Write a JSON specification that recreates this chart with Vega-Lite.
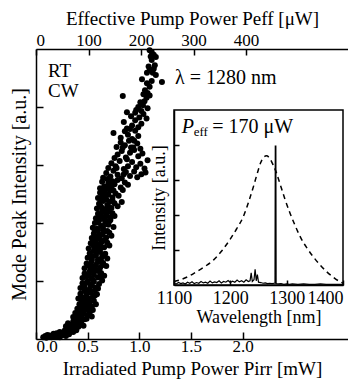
{
  "$schema": "https://vega.github.io/schema/vega-lite/v6.json",
  "width": 312,
  "height": 290,
  "autosize": {"type": "none"},
  "padding": {"left": 36, "top": 49, "right": 0, "bottom": 43},
  "background": "white",
  "config": {
    "view": {"stroke": null},
    "font": "Liberation Serif",
    "text": {"font": "Liberation Serif"},
    "axis": {
      "domainColor": "black", "tickColor": "black", "labelColor": "black", "titleColor": "black",
      "labelFont": "Liberation Serif", "titleFont": "Liberation Serif",
      "labelFontSize": 18, "titleFontSize": 20, "titleFontWeight": "normal",
      "grid": false, "domainWidth": 1.5, "tickWidth": 1.5
    }
  },
  "datasets": {
    "scatter": [
      {"p":0.07,"i":0.03},{"p":0.09,"i":0.05},{"p":0.10,"i":0.02},{"p":0.12,"i":0.04},{"p":0.13,"i":0.06},{"p":0.15,"i":0.03},{"p":0.16,"i":0.05},{"p":0.18,"i":0.04},{"p":0.19,"i":0.07},{"p":0.21,"i":0.05},{"p":0.22,"i":0.08},{"p":0.24,"i":0.06},{"p":0.25,"i":0.09},{"p":0.27,"i":0.07},
      {"p":0.20,"i":0.10},{"p":0.23,"i":0.12},{"p":0.26,"i":0.11},{"p":0.28,"i":0.15},{"p":0.30,"i":0.10},{"p":0.31,"i":0.18},{"p":0.33,"i":0.13},{"p":0.35,"i":0.17},{"p":0.37,"i":0.20},{"p":0.39,"i":0.15},
      {"p":0.29,"i":0.22},{"p":0.31,"i":0.27},{"p":0.34,"i":0.24},{"p":0.36,"i":0.30},{"p":0.38,"i":0.25},{"p":0.40,"i":0.33},{"p":0.42,"i":0.28},{"p":0.44,"i":0.31},{"p":0.46,"i":0.23},{"p":0.47,"i":0.34},
      {"p":0.36,"i":0.38},{"p":0.38,"i":0.45},{"p":0.40,"i":0.40},{"p":0.42,"i":0.48},{"p":0.44,"i":0.37},{"p":0.46,"i":0.44},{"p":0.48,"i":0.50},{"p":0.50,"i":0.41},{"p":0.52,"i":0.46},{"p":0.54,"i":0.39},
      {"p":0.40,"i":0.52},{"p":0.42,"i":0.60},{"p":0.44,"i":0.55},{"p":0.46,"i":0.65},{"p":0.48,"i":0.58},{"p":0.50,"i":0.53},{"p":0.52,"i":0.63},{"p":0.54,"i":0.56},{"p":0.56,"i":0.66},{"p":0.58,"i":0.60},
      {"p":0.41,"i":0.70},{"p":0.43,"i":0.78},{"p":0.45,"i":0.72},{"p":0.47,"i":0.83},{"p":0.49,"i":0.75},{"p":0.51,"i":0.69},{"p":0.53,"i":0.80},{"p":0.55,"i":0.73},{"p":0.57,"i":0.84},{"p":0.59,"i":0.77},
      {"p":0.43,"i":0.88},{"p":0.45,"i":0.96},{"p":0.47,"i":0.90},{"p":0.50,"i":1.00},{"p":0.52,"i":0.86},{"p":0.54,"i":0.94},{"p":0.56,"i":0.99},{"p":0.58,"i":0.89},{"p":0.61,"i":0.95},{"p":0.64,"i":1.01},
      {"p":0.45,"i":1.05},{"p":0.47,"i":1.13},{"p":0.49,"i":1.08},{"p":0.52,"i":1.17},{"p":0.54,"i":1.04},{"p":0.56,"i":1.11},{"p":0.58,"i":1.18},{"p":0.60,"i":1.06},{"p":0.63,"i":1.14},{"p":0.66,"i":1.09},
      {"p":0.47,"i":1.22},{"p":0.49,"i":1.30},{"p":0.52,"i":1.25},{"p":0.54,"i":1.35},{"p":0.56,"i":1.20},{"p":0.58,"i":1.28},{"p":0.60,"i":1.33},{"p":0.62,"i":1.23},{"p":0.65,"i":1.31},{"p":0.68,"i":1.26},
      {"p":0.50,"i":1.40},{"p":0.52,"i":1.48},{"p":0.54,"i":1.38},{"p":0.56,"i":1.52},{"p":0.58,"i":1.44},{"p":0.60,"i":1.37},{"p":0.62,"i":1.50},{"p":0.64,"i":1.42},{"p":0.67,"i":1.47},{"p":0.69,"i":1.39},
      {"p":0.51,"i":1.56},{"p":0.53,"i":1.65},{"p":0.56,"i":1.60},{"p":0.58,"i":1.70},{"p":0.60,"i":1.55},{"p":0.62,"i":1.63},{"p":0.64,"i":1.68},{"p":0.66,"i":1.58},{"p":0.69,"i":1.66},{"p":0.71,"i":1.61},
      {"p":0.54,"i":1.74},{"p":0.56,"i":1.82},{"p":0.58,"i":1.77},{"p":0.60,"i":1.87},{"p":0.62,"i":1.72},{"p":0.64,"i":1.80},{"p":0.66,"i":1.85},{"p":0.68,"i":1.75},{"p":0.71,"i":1.83},{"p":0.73,"i":1.78},
      {"p":0.55,"i":1.92},{"p":0.57,"i":2.00},{"p":0.59,"i":1.90},{"p":0.61,"i":2.04},{"p":0.63,"i":1.95},{"p":0.65,"i":1.89},{"p":0.67,"i":2.02},{"p":0.70,"i":1.97},{"p":0.72,"i":2.05},{"p":0.75,"i":1.93},
      {"p":0.58,"i":2.08},{"p":0.60,"i":2.16},{"p":0.62,"i":2.10},{"p":0.64,"i":2.21},{"p":0.66,"i":2.07},{"p":0.68,"i":2.14},{"p":0.70,"i":2.19},{"p":0.72,"i":2.09},{"p":0.74,"i":2.17},{"p":0.76,"i":2.12},
      {"p":0.59,"i":2.25},{"p":0.61,"i":2.33},{"p":0.63,"i":2.28},{"p":0.65,"i":2.38},{"p":0.67,"i":2.24},{"p":0.69,"i":2.31},{"p":0.71,"i":2.36},{"p":0.73,"i":2.26},{"p":0.76,"i":2.34},{"p":0.79,"i":2.29},{"p":0.83,"i":2.36},
      {"p":0.60,"i":2.43},{"p":0.62,"i":2.52},{"p":0.64,"i":2.46},{"p":0.66,"i":2.55},{"p":0.68,"i":2.41},{"p":0.70,"i":2.49},{"p":0.72,"i":2.56},{"p":0.74,"i":2.44},{"p":0.77,"i":2.51},{"p":0.80,"i":2.47},{"p":0.84,"i":2.57},
      {"p":0.62,"i":2.60},{"p":0.64,"i":2.71},{"p":0.66,"i":2.63},{"p":0.68,"i":2.58},{"p":0.70,"i":2.69},{"p":0.73,"i":2.62},{"p":0.76,"i":2.67},{"p":0.79,"i":2.74},{"p":0.82,"i":2.61},{"p":0.86,"i":2.70},{"p":0.89,"i":2.66},
      {"p":0.65,"i":2.78},{"p":0.68,"i":2.86},{"p":0.72,"i":2.80},{"p":0.75,"i":2.90},{"p":0.79,"i":2.83},{"p":0.83,"i":2.77},{"p":0.87,"i":2.88},{"p":0.91,"i":2.81},{"p":0.95,"i":2.89},{"p":0.98,"i":2.79},{"p":1.02,"i":2.84},{"p":1.06,"i":2.87},
      {"p":0.70,"i":2.95},{"p":0.73,"i":3.03},{"p":0.77,"i":2.98},{"p":0.81,"i":3.07},{"p":0.85,"i":2.93},{"p":0.89,"i":2.98},{"p":0.93,"i":3.05},{"p":0.97,"i":2.96},{"p":1.01,"i":3.02},{"p":1.05,"i":2.94},{"p":1.08,"i":3.08},
      {"p":0.76,"i":3.12},{"p":0.79,"i":3.18},{"p":0.83,"i":3.24},{"p":0.87,"i":3.13},{"p":0.91,"i":3.21},{"p":0.95,"i":3.26},{"p":0.99,"i":3.15},{"p":1.03,"i":3.20},
      {"p":0.78,"i":3.31},{"p":0.82,"i":3.39},{"p":0.86,"i":3.34},{"p":0.90,"i":3.42},{"p":0.94,"i":3.30},{"p":0.98,"i":3.37},{"p":1.01,"i":3.28},
      {"p":0.75,"i":3.55},{"p":0.82,"i":3.47},{"p":0.86,"i":3.58},{"p":0.89,"i":3.52},{"p":0.93,"i":3.45},{"p":0.96,"i":3.59},{"p":0.99,"i":3.50},
      {"p":0.85,"i":3.74},{"p":0.88,"i":3.63},{"p":0.93,"i":3.68},{"p":0.96,"i":3.77},{"p":0.99,"i":3.65},{"p":1.02,"i":3.71},
      {"p":0.88,"i":3.91},{"p":0.92,"i":3.84},{"p":0.96,"i":3.90},{"p":1.00,"i":3.82},{"p":1.04,"i":3.88},{"p":1.07,"i":3.80},
      {"p":0.99,"i":4.00},{"p":1.035,"i":4.03},{"p":1.08,"i":3.98},{"p":1.05,"i":4.10},{"p":1.01,"i":4.08},
      {"p":0.84,"i":4.19},{"p":1.055,"i":4.29},{"p":1.08,"i":4.24},{"p":1.07,"i":4.16},{"p":1.10,"i":4.20},
      {"p":1.026,"i":4.48},{"p":1.074,"i":4.41},{"p":1.219,"i":4.43},{"p":1.10,"i":4.35},{"p":1.12,"i":4.45},
      {"p":1.074,"i":4.59},{"p":1.13,"i":4.59},{"p":1.10,"i":4.64},{"p":1.15,"i":4.72},{"p":1.12,"i":4.81},{"p":1.16,"i":4.55},{"p":1.09,"i":4.70},{"p":1.14,"i":4.66},
      {"p":1.14,"i":4.90},{"p":1.10,"i":4.98},{"p":1.12,"i":4.95},{"p":1.16,"i":4.86},{"p":1.11,"i":4.87},
      {"p":0.11,"i":0.07},{"p":0.17,"i":0.09},{"p":0.23,"i":0.03},{"p":0.29,"i":0.05},{"p":0.32,"i":0.08},{"p":0.36,"i":0.12},{"p":0.41,"i":0.21},{"p":0.39,"i":0.30},
      {"p":0.43,"i":0.42},{"p":0.49,"i":0.35},{"p":0.45,"i":0.50},{"p":0.51,"i":0.57},{"p":0.47,"i":0.62},{"p":0.55,"i":0.50},{"p":0.50,"i":0.70},{"p":0.44,"i":0.66},
      {"p":0.48,"i":0.82},{"p":0.53,"i":0.92},{"p":0.57,"i":0.75},{"p":0.49,"i":0.97},{"p":0.60,"i":0.87},{"p":0.51,"i":1.10},{"p":0.55,"i":1.02},{"p":0.62,"i":1.09},
      {"p":0.53,"i":1.29},{"p":0.57,"i":1.24},{"p":0.61,"i":1.17},{"p":0.64,"i":1.27},{"p":0.55,"i":1.43},{"p":0.59,"i":1.50},{"p":0.63,"i":1.35},{"p":0.66,"i":1.44},
      {"p":0.55,"i":1.68},{"p":0.59,"i":1.62},{"p":0.63,"i":1.57},{"p":0.67,"i":1.71},{"p":0.57,"i":1.88},{"p":0.61,"i":1.79},{"p":0.65,"i":1.95},{"p":0.69,"i":1.86},
      {"p":0.60,"i":2.01},{"p":0.63,"i":2.13},{"p":0.67,"i":2.10},{"p":0.71,"i":2.03},{"p":0.62,"i":2.30},{"p":0.66,"i":2.20},{"p":0.70,"i":2.27},{"p":0.74,"i":2.39},
      {"p":0.63,"i":2.40},{"p":0.67,"i":2.49},{"p":0.71,"i":2.62},{"p":0.75,"i":2.56},{"p":0.69,"i":2.76},{"p":0.74,"i":2.72},{"p":0.78,"i":2.95},{"p":0.85,"i":2.84},
      {"p":0.88,"i":3.10},{"p":0.92,"i":3.30},{"p":0.84,"i":3.30},{"p":0.91,"i":3.62},{"p":0.95,"i":3.42},{"p":0.97,"i":3.95},{"p":1.02,"i":3.93},{"p":1.04,"i":4.22}
    ],
    "notes": [
      {"eff": 22.8, "v": 4.517, "t": "RT"},
      {"eff": 22.8, "v": 4.172, "t": "CW"}
    ],
    "lambda": [
      {"eff": 264.6, "v": 4.391, "t": "λ = 1280 nm"}
    ],
    "dashed": [
      {"w":1100,"s":0.10},{"w":1110,"s":0.14},{"w":1125,"s":0.24},{"w":1140,"s":0.38},{"w":1155,"s":0.53},{"w":1170,"s":0.71},{"w":1185,"s":0.98},{"w":1199,"s":1.29},{"w":1211,"s":1.60},{"w":1223,"s":1.95},{"w":1233,"s":2.40},{"w":1241,"s":2.81},{"w":1248,"s":3.20},{"w":1254,"s":3.50},{"w":1259,"s":3.65},{"w":1264,"s":3.69},{"w":1269,"s":3.64},{"w":1276,"s":3.43},{"w":1282,"s":3.20},{"w":1288,"s":2.90},{"w":1297,"s":2.45},{"w":1306,"s":2.05},{"w":1315,"s":1.70},{"w":1324,"s":1.38},{"w":1335,"s":1.08},{"w":1347,"s":0.81},{"w":1359,"s":0.58},{"w":1371,"s":0.38},{"w":1383,"s":0.22},{"w":1395,"s":0.09},{"w":1400,"s":0.05}
    ],
    "spec": [
      {"w":1100,"s":0.05},{"w":1104,"s":0.03},{"w":1108,"s":0.07},{"w":1112,"s":0.04},{"w":1116,"s":0.06},{"w":1120,"s":0.03},{"w":1124,"s":0.08},{"w":1128,"s":0.05},{"w":1132,"s":0.09},{"w":1136,"s":0.04},{"w":1140,"s":0.07},{"w":1144,"s":0.05},{"w":1148,"s":0.10},{"w":1152,"s":0.06},{"w":1156,"s":0.08},{"w":1160,"s":0.05},{"w":1164,"s":0.11},{"w":1168,"s":0.06},{"w":1172,"s":0.09},{"w":1176,"s":0.07},{"w":1180,"s":0.12},{"w":1184,"s":0.06},{"w":1188,"s":0.10},{"w":1192,"s":0.08},{"w":1196,"s":0.13},{"w":1200,"s":0.07},{"w":1204,"s":0.11},{"w":1208,"s":0.08},{"w":1212,"s":0.14},{"w":1216,"s":0.09},{"w":1220,"s":0.12},{"w":1224,"s":0.08},{"w":1228,"s":0.15},{"w":1232,"s":0.10},{"w":1235,"s":0.12},{"w":1237,"s":0.35},{"w":1239,"s":0.10},{"w":1242,"s":0.15},{"w":1244,"s":0.45},{"w":1246,"s":0.12},{"w":1248,"s":0.30},{"w":1250,"s":0.08},{"w":1254,"s":0.07},{"w":1258,"s":0.05},{"w":1262,"s":0.06},{"w":1266,"s":0.04},{"w":1270,"s":0.05},{"w":1274,"s":0.04},{"w":1278,"s":0.05},{"w":1279.3,"s":0.05},{"w":1279.8,"s":3.97},{"w":1280.8,"s":3.97},{"w":1281.3,"s":0.04},{"w":1285,"s":0.03},{"w":1290,"s":0.04},{"w":1295,"s":0.02},{"w":1300,"s":0.03},{"w":1305,"s":0.02},{"w":1310,"s":0.03},{"w":1320,"s":0.02},{"w":1330,"s":0.03},{"w":1340,"s":0.02},{"w":1350,"s":0.02},{"w":1360,"s":0.03},{"w":1370,"s":0.02},{"w":1380,"s":0.02},{"w":1390,"s":0.02},{"w":1400,"s":0.02}
    ],
    "frame": [{"a":1100,"b":1400,"c":0,"d":5}],
    "insetP": [{"w":1113.7,"s":4.334,"t":"P"}],
    "insetSub": [{"w":1135,"s":4.243,"t":"eff"}],
    "insetRest": [{"w":1168,"s":4.334,"t":"= 170 μW"}]
  },
  "layer": [
    {
      "data": {"name": "scatter"},
      "mark": {"type": "circle", "size": 36, "color": "black", "opacity": 1, "clip": false},
      "encoding": {
        "x": {"field": "p", "type": "quantitative",
          "scale": {"domain": [0, 3.02], "nice": false, "zero": false},
          "axis": {"orient": "bottom", "values": [0, 0.5, 1, 1.5, 2], "format": ".1f", "tickSize": -7, "labelPadding": 6, "labelFontSize": 17,
                   "labelFont": "Liberation Serif", "titleFont": "Liberation Serif", "titleFontSize": 19,
                   "title": "Irradiated Pump Power Pirr [mW]", "titleBaseline": "alphabetic", "titleY": 35}},
        "y": {"field": "i", "type": "quantitative",
          "scale": {"domain": [0, 5], "nice": false},
          "axis": {"orient": "left", "values": [1, 2, 3, 4], "labels": false, "tickSize": -7,
                   "titleFont": "Liberation Serif",
                   "title": "Mode Peak Intensity [a.u.]", "titlePadding": 6}}
      }
    },
    {
      "data": {"name": "notes"},
      "mark": {"type": "text", "align": "left", "baseline": "alphabetic", "fontSize": 19, "font": "Liberation Serif", "color": "black"},
      "encoding": {
        "x": {"field": "eff", "type": "quantitative",
          "scale": {"domain": [0, 594], "nice": false, "zero": false},
          "axis": {"orient": "top", "values": [0, 100, 200, 300, 400], "tickSize": -6, "labelPadding": 6, "labelFontSize": 17,
                   "labelFont": "Liberation Serif", "titleFont": "Liberation Serif", "titleFontSize": 19,
                   "title": "Effective Pump Power  Peff  [μW]", "titleBaseline": "alphabetic", "titleY": -25}},
        "y": {"field": "v", "type": "quantitative", "scale": {"domain": [0, 5], "nice": false}, "axis": null},
        "text": {"field": "t"}
      }
    },
    {
      "data": {"name": "lambda"},
      "mark": {"type": "text", "align": "left", "baseline": "alphabetic", "fontSize": 20, "font": "Liberation Serif", "color": "black"},
      "encoding": {
        "x": {"field": "eff", "type": "quantitative", "scale": {"domain": [0, 594], "nice": false, "zero": false}, "axis": null},
        "y": {"field": "v", "type": "quantitative", "scale": {"domain": [0, 5], "nice": false}, "axis": null},
        "text": {"field": "t"}
      }
    },
    {
      "layer": [
        {
          "data": {"name": "dashed"},
          "mark": {"type": "line", "strokeDash": [5, 4], "color": "black", "strokeWidth": 1.5, "interpolate": "monotone"},
          "encoding": {
            "x": {"field": "w", "type": "quantitative",
              "scale": {"domain": [1100, 1400], "range": [138, 307], "nice": false, "zero": false},
              "axis": {"orient": "bottom", "offset": -54, "values": [1100, 1200, 1300, 1400], "format": "d", "tickSize": -5, "labelPadding": 9,
                       "labelFont": "Liberation Serif", "titleFont": "Liberation Serif", "labelFontSize": 18, "titleFontSize": 18,
                       "labelAlign": {"condition": {"test": "datum.value == 1400", "value": "right"}, "value": "center"},
                       "title": "Wavelength  [nm]", "titleBaseline": "alphabetic", "titleY": 37}},
            "y": {"field": "s", "type": "quantitative",
              "scale": {"domain": [0, 5], "range": [236, 61], "nice": false},
              "axis": {"orient": "left", "offset": -138, "values": [1, 2, 3, 4], "labels": false, "tickSize": -5,
                       "titleFont": "Liberation Serif",
                       "title": "Intensity [a.u.]", "titleFontSize": 18, "titlePadding": 5}}
          }
        },
        {
          "data": {"name": "spec"},
          "mark": {"type": "line", "color": "black", "strokeWidth": 1.2},
          "encoding": {
            "x": {"field": "w", "type": "quantitative"},
            "y": {"field": "s", "type": "quantitative"}
          }
        },
        {
          "data": {"name": "frame"},
          "mark": {"type": "rect", "fill": "transparent", "stroke": "black", "strokeWidth": 1.5},
          "encoding": {
            "x": {"field": "a", "type": "quantitative"}, "x2": {"field": "b"},
            "y": {"field": "c", "type": "quantitative"}, "y2": {"field": "d"}
          }
        },
        {
          "data": {"name": "insetP"},
          "mark": {"type": "text", "align": "left", "baseline": "alphabetic", "fontSize": 20, "fontStyle": "italic", "font": "Liberation Serif", "color": "black"},
          "encoding": {"x": {"field": "w", "type": "quantitative"}, "y": {"field": "s", "type": "quantitative"}, "text": {"field": "t"}}
        },
        {
          "data": {"name": "insetSub"},
          "mark": {"type": "text", "align": "left", "baseline": "alphabetic", "fontSize": 13, "font": "Liberation Serif", "color": "black"},
          "encoding": {"x": {"field": "w", "type": "quantitative"}, "y": {"field": "s", "type": "quantitative"}, "text": {"field": "t"}}
        },
        {
          "data": {"name": "insetRest"},
          "mark": {"type": "text", "align": "left", "baseline": "alphabetic", "fontSize": 20, "font": "Liberation Serif", "color": "black"},
          "encoding": {"x": {"field": "w", "type": "quantitative"}, "y": {"field": "s", "type": "quantitative"}, "text": {"field": "t"}}
        }
      ]
    }
  ],
  "resolve": {"scale": {"x": "independent", "y": "independent"}}
}
